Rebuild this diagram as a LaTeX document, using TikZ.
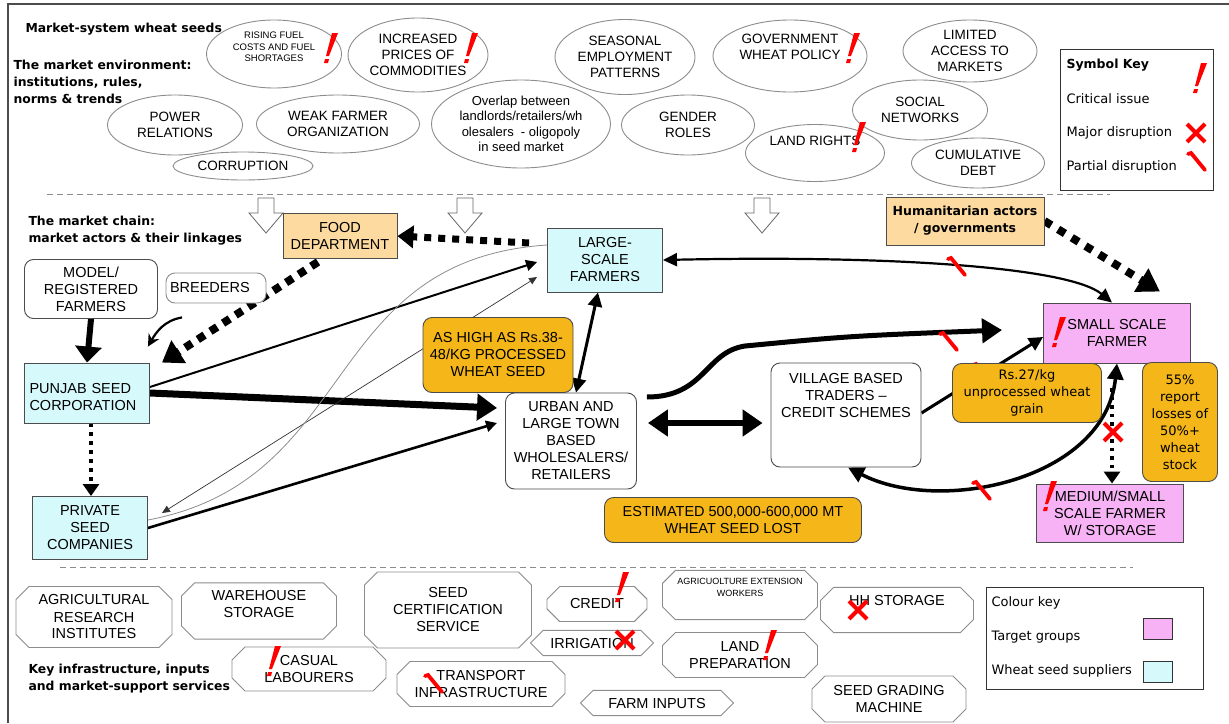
\documentclass[tikz,border=0pt]{standalone}
\usepackage{fontspec}
\setmainfont{Liberation Sans}
\newfontfamily\vfont{DejaVu Sans}
\usetikzlibrary{arrows.meta,shapes.geometric,shapes.misc}

\pgfdeclarelayer{background}
\pgfsetlayers{background,main}

\definecolor{supplierblue}{RGB}{214,250,252}
\definecolor{targetpink}{RGB}{246,178,244}
\definecolor{actortan}{RGB}{252,218,160}
\definecolor{noteorange}{RGB}{244,182,24}
\definecolor{edgegray}{RGB}{140,140,140}

\newcommand{\chainsize}{\fontsize{14.5}{17}\selectfont}

\tikzset{
	crit/.pic={
		\fill[red] (3,-16) -- (9,-16) -- (0,7) -- (-3,7) -- cycle;
		\fill[red] (-4,10) -- (0,10) -- (-1,14) -- (-5,14) -- cycle;
	},
	major/.pic={\draw[red, line width=4pt] (-9,-9) -- (9,9) (-9,9) -- (9,-9);},
	partial/.pic={\draw[red, line width=3.8pt, line cap=round] (-9,-7) -- (-6,-8) -- (8,9);},
	feed/.pic={\draw[black!60, fill=white, line width=0.8pt] (-8,-17) -- (8,-17) -- (8,-2) -- (17,-2) -- (0,18) -- (-17,-2) -- (-8,-2) -- cycle;},
}

\begin{document}
\begin{tikzpicture}[
		x=1pt, y=-1pt,
		env/.style={ellipse, draw=edgegray, line width=0.9pt, inner sep=0pt, align=center, font=\fontsize{13.5}{16}\selectfont},
		envsmall/.style={env, font=\fontsize{9.5}{11.5}\selectfont},
		chain/.style={draw=black!70, line width=0.9pt, align=center, inner sep=2pt, font=\chainsize},
		supplier/.style={chain, fill=supplierblue},
		target/.style={chain, fill=targetpink},
		actor/.style={chain, rounded corners=9pt, fill=white},
		donor/.style={chain, fill=actortan},
		note/.style={chain, rounded corners=9pt, fill=noteorange},
		infra/.style={chamfered rectangle, chamfered rectangle xsep=6.5pt, chamfered rectangle ysep=6.5pt, draw=edgegray, line width=0.9pt, align=center, inner sep=1pt, fill=white, font=\chainsize},
		heading/.style={anchor=west, align=left, font=\vfont\bfseries\fontsize{12.4}{17}\selectfont},
		keytext/.style={anchor=west, font=\vfont\fontsize{13}{15}\selectfont},
		bigdots/.style={line width=7pt, dash pattern=on 7pt off 7pt, -{Triangle[length=16pt,width=22pt]}},
		smalldots/.style={line width=4pt, dash pattern=on 4pt off 5pt, -{Triangle[length=12pt,width=16pt]}},
		link/.style={line width=2pt, -{Triangle[length=11pt,width=11pt]}},
		thinlink/.style={line width=0.7pt, black!80, {Triangle[length=8pt,width=7pt]}-{Triangle[length=8pt,width=7pt]}},
	]
	\useasboundingbox (0,0) rectangle (1229,723);
	\draw[line width=1.2pt, black!70] (8,723) -- (8,4) -- (1229,4);
	\draw[edgegray, line width=1pt, dash pattern=on 6pt off 4pt] (47,194) -- (1110,194);
	\draw[edgegray, line width=1pt, dash pattern=on 6pt off 4pt] (60,567) -- (1133,567);

	% market environment
	\node[heading] (title) at (22,29) {Market-system wheat seeds};
	\node[heading] (envlabel) at (10,82) {The market environment:\\institutions, rules,\\norms \& trends};
	\node[envsmall, minimum width=135pt, minimum height=68pt, text depth=14pt] (fuel) at (274,54) {RISING FUEL\\COSTS AND FUEL\\SHORTAGES};
	\node[env, minimum width=140pt, minimum height=74pt] (prices) at (418,55) {INCREASED\\PRICES OF\\COMMODITIES};
	\node[env, minimum width=140pt, minimum height=75pt] (seasonal) at (625,57) {SEASONAL\\EMPLOYMENT\\PATTERNS};
	\node[env, minimum width=154pt, minimum height=72pt, text depth=18pt] (policy) at (790,56) {GOVERNMENT\\WHEAT POLICY};
	\node[env, minimum width=134pt, minimum height=62pt] (access) at (970,51) {LIMITED\\ACCESS TO\\MARKETS};
	\node[env, minimum width=135pt, minimum height=60pt] (power) at (175,125) {POWER\\RELATIONS};
	\node[env, minimum width=163pt, minimum height=58pt] (farmorg) at (338,124) {WEAK FARMER\\ORGANIZATION};
	\node[env, font=\fontsize{13}{15.5}\selectfont, minimum width=179pt, minimum height=88pt] (overlap) at (521,124) {Overlap between\\landlords/retailers/wh\\olesalers\ \ - oligopoly\\in seed market};
	\node[env, minimum width=133pt, minimum height=60pt] (gender) at (688,125) {GENDER\\ROLES};
	\node[env, minimum width=135pt, minimum height=60pt] (social) at (920,110) {SOCIAL\\NETWORKS};
	\node[env, minimum width=139pt, minimum height=57pt, text depth=24pt] (land) at (815,153) {LAND RIGHTS};
	\node[env, minimum width=133pt, minimum height=50pt] (debt) at (978,163) {CUMULATIVE\\DEBT};
	\node[env, minimum width=140pt, minimum height=28pt] (corruption) at (243,166) {CORRUPTION};

	% symbol key
	\node[draw=black!80, line width=1pt, minimum width=153pt, minimum height=141pt] (symkey) at (1136.5,119.5) {};
	\node[keytext, font=\vfont\bfseries\fontsize{12.5}{14}\selectfont] (symtitle) at (1063,65) {Symbol Key};
	\node[keytext] (critkey) at (1063,99) {Critical issue};
	\node[keytext] (majkey) at (1063,133) {Major disruption};
	\node[keytext] (partkey) at (1063,167) {Partial disruption};

	% market chain
	\node[heading] (chainlabel) at (25,231) {The market chain:\\market actors \& their linkages};
	\pic at (266,215) {feed};
	\pic at (465,215) {feed};
	\pic at (762,215) {feed};
	\node[donor, minimum width=114pt, minimum height=45pt] (food) at (340,236) {FOOD\\DEPARTMENT};
	\node[supplier, minimum width=115pt, minimum height=64pt] (large) at (605,260) {LARGE-\\SCALE\\FARMERS};
	\node[donor, font=\vfont\bfseries\fontsize{12.5}{17}\selectfont, minimum width=158pt, minimum height=48pt] (humanit) at (965,221) {Humanitarian actors\\/ governments};
	\node[target, minimum width=147pt, minimum height=60pt] (small) at (1117,333) {SMALL SCALE\\FARMER};
	\node[actor, minimum width=133pt, minimum height=59pt] (model) at (91,289) {MODEL/\\REGISTERED\\FARMERS};
	\node[actor, draw=edgegray, minimum width=100pt, minimum height=30pt, align=left, text width=92pt] (breeders) at (216,288) {BREEDERS};
	\node[supplier, minimum width=125pt, minimum height=60pt, align=left, text width=115pt, text depth=10pt] (punjab) at (87,393) {PUNJAB SEED\\CORPORATION};
	\node[supplier, minimum width=115pt, minimum height=63pt] (private) at (90,528) {PRIVATE\\SEED\\COMPANIES};
	\node[note, minimum width=150pt, minimum height=75pt] (seedprice) at (498,355) {AS HIGH AS Rs.38-\\48/KG PROCESSED\\WHEAT SEED};
	\node[actor, minimum width=131pt, minimum height=96pt] (urban) at (571,441) {URBAN AND\\LARGE TOWN\\BASED\\WHOLESALERS/\\RETAILERS};
	\node[actor, minimum width=150pt, minimum height=104pt, text depth=40pt] (village) at (846,415) {VILLAGE BASED\\TRADERS –\\CREDIT SCHEMES};
	\node[note, font=\vfont\fontsize{13}{17}\selectfont, minimum width=149pt, minimum height=59pt] (grainprice) at (1027,393) {Rs.27/kg\\unprocessed wheat\\grain};
	\node[note, font=\vfont\fontsize{13}{17}\selectfont, minimum width=75pt, minimum height=119pt, inner sep=1pt] (losses) at (1180,422) {55\%\\report\\losses of\\50\%+\\wheat\\stock};
	\node[target, minimum width=147pt, minimum height=58pt] (medium) at (1110,513) {MEDIUM/SMALL\\SCALE FARMER\\W/ STORAGE};
	\node[note, minimum width=257pt, minimum height=45pt] (seedlost) at (733,520) {ESTIMATED 500,000-600,000 MT\\WHEAT SEED LOST};

	\begin{pgfonlayer}{background}
		\draw[bigdots] ([xshift=-18pt,yshift=17pt]large.west) -- (food.east);
		\draw[bigdots, line width=8pt, dash pattern=on 8pt off 8pt, -{Triangle[length=22pt,width=26pt]}] (humanit.east) -- ([xshift=43pt,yshift=11pt]small.north);
		\draw[bigdots, line width=8pt, dash pattern=on 8pt off 7pt, -{Triangle[length=20pt,width=26pt]}] ([xshift=-22pt,yshift=-3pt]food.south) -- ([xshift=12pt]punjab.north east);
		\draw[line width=6pt, -{Triangle[length=16pt,width=26pt]}] (model.south) -- (punjab.north);
		\draw[line width=2.2pt, -{Stealth[length=12pt,width=12pt]}] ([xshift=-34pt,yshift=-14pt]breeders.south) .. controls +(-18,3) and +(8,-14) .. ([xshift=-2pt,yshift=16pt]punjab.north east);
		\draw[smalldots] ([xshift=4pt]punjab.south) -- ([xshift=4pt]punjab.south |- private.north);
		\draw[line width=7pt, -{Triangle[length=20pt,width=26pt]}] (punjab.east) -- ([xshift=-8pt,yshift=33pt]urban.west);
		\draw[link] ([yshift=6pt]punjab.east) -- ([xshift=-10pt,yshift=-2pt]large.west);
		\draw[thinlink] ([xshift=14pt,yshift=15pt]private.east) -- ([xshift=-10pt,yshift=-17pt]large.west);
		\draw[edgegray, line width=0.8pt] ([yshift=8pt]private.east) .. controls (360,480) and (320,260) .. ([yshift=15pt]large.west);
		\draw[link, line width=2.6pt] (private.east) -- ([xshift=-8pt,yshift=18pt]urban.west);
		\draw[line width=3pt, {Triangle[length=14pt,width=14pt]}-{Triangle[length=14pt,width=14pt]}] ([xshift=-7pt]large.south) -- ([xshift=5pt]urban.north);
		\draw[line width=5.5pt, {Triangle[length=20pt,width=26pt]}-{Triangle[length=20pt,width=26pt]}] ([xshift=11pt,yshift=18pt]urban.east) -- ([xshift=-8pt,yshift=-8pt]village.west);
		\draw[line width=5pt, -{Triangle[length=20pt,width=24pt]}] ([xshift=10pt,yshift=44pt]urban.east) .. controls (705,397) and (705,352) .. (745,346) .. controls (850,336) .. ([xshift=-41pt,yshift=3pt]small.west);
		\draw[line width=3pt, -{Triangle[length=14pt,width=14pt]}] ([yshift=2pt]village.east) -- ([yshift=-4pt]small.west);
		\pic at (982,372) {partial};
		\draw[line width=2.2pt, {Triangle[length=14pt,width=13pt]}-{Triangle[length=14pt,width=13pt]}] (large.east) .. controls (900,255) and (1070,268) .. ([xshift=-5pt]small.north);
		\draw[line width=3.5pt, {Triangle[length=16pt,width=16pt]}-{Triangle[length=16pt,width=16pt]}] (small.south) .. controls (1105,480) and (940,515) .. ([xshift=2pt]village.south);
		\draw[smalldots, line width=3.5pt, dash pattern=on 3.5pt off 5pt] ([xshift=-5pt,yshift=-25pt]small.south) -- ([xshift=-5pt]small.south |- medium.north);
	\end{pgfonlayer}

	% infrastructure and services
	\node[heading] (infralabel) at (25,679) {Key infrastructure, inputs\\and market-support services};
	\node[infra, minimum width=156pt, minimum height=61pt] (research) at (94,617) {AGRICULTURAL\\RESEARCH\\INSTITUTES};
	\node[infra, minimum width=155pt, minimum height=49pt, text depth=14pt] (warehouse) at (259,611) {WAREHOUSE\\STORAGE};
	\node[infra, minimum width=167pt, minimum height=76pt] (certif) at (448,610) {SEED\\CERTIFICATION\\SERVICE};
	\node[infra, minimum width=154pt, minimum height=44pt] (casual) at (309,669) {CASUAL\\LABOURERS};
	\node[infra, minimum width=168pt, minimum height=45pt] (transport) at (481,684) {TRANSPORT\\INFRASTRUCTURE};
	\node[infra, minimum width=100pt, minimum height=35pt] (credit) at (597,604) {CREDIT};
	\node[infra, minimum width=123pt, minimum height=21pt] (irrigation) at (592,643) {IRRIGATION};
	\node[infra, font=\fontsize{9}{12}\selectfont, minimum width=155pt, minimum height=45pt, text depth=16pt] (extension) at (740,595) {AGRICUOLTURE EXTENSION\\WORKERS};
	\node[infra, minimum width=155pt, minimum height=45pt] (landprep) at (740,655) {LAND\\PREPARATION};
	\node[infra, minimum width=153pt, minimum height=24pt] (inputs) at (657,703) {FARM INPUTS};
	\node[infra, minimum width=153pt, minimum height=45pt, text depth=20pt] (hhstorage) at (897,610) {HH STORAGE};
	\node[infra, minimum width=154pt, minimum height=46pt] (grading) at (889,699) {SEED GRADING\\MACHINE};

	% colour key
	\node[draw=black!80, line width=1pt, minimum width=217pt, minimum height=102pt] (colkey) at (1094.5,638) {};
	\node[keytext] (coltitle) at (988,603) {Colour key};
	\node[keytext] (targetkey) at (988,637) {Target groups};
	\node[keytext] (supplierkey) at (988,671) {Wheat seed suppliers};
	\node[draw=black!80, fill=targetpink, minimum width=29pt, minimum height=21pt, inner sep=0pt] (pinkswatch) at (1157.5,628.5) {};
	\node[draw=black!80, fill=supplierblue, minimum width=29pt, minimum height=21pt, inner sep=0pt] (blueswatch) at (1157.5,671.5) {};

	% issue marks
	\foreach \p in {(329,49),(469,49),(851,49),(857,138),(1198,79),(1057,333),(1048,497),(620,588),(768,646),(272,662)}
		\pic at \p {crit};
	\foreach \p in {(1196,133),(1113,432),(625,640),(858,610)}
		\pic at \p {major};
	\foreach \p in {(1197,161),(957,266),(949,341),(982,490),(434,683)}
		\pic at \p {partial};
\end{tikzpicture}
\end{document}
